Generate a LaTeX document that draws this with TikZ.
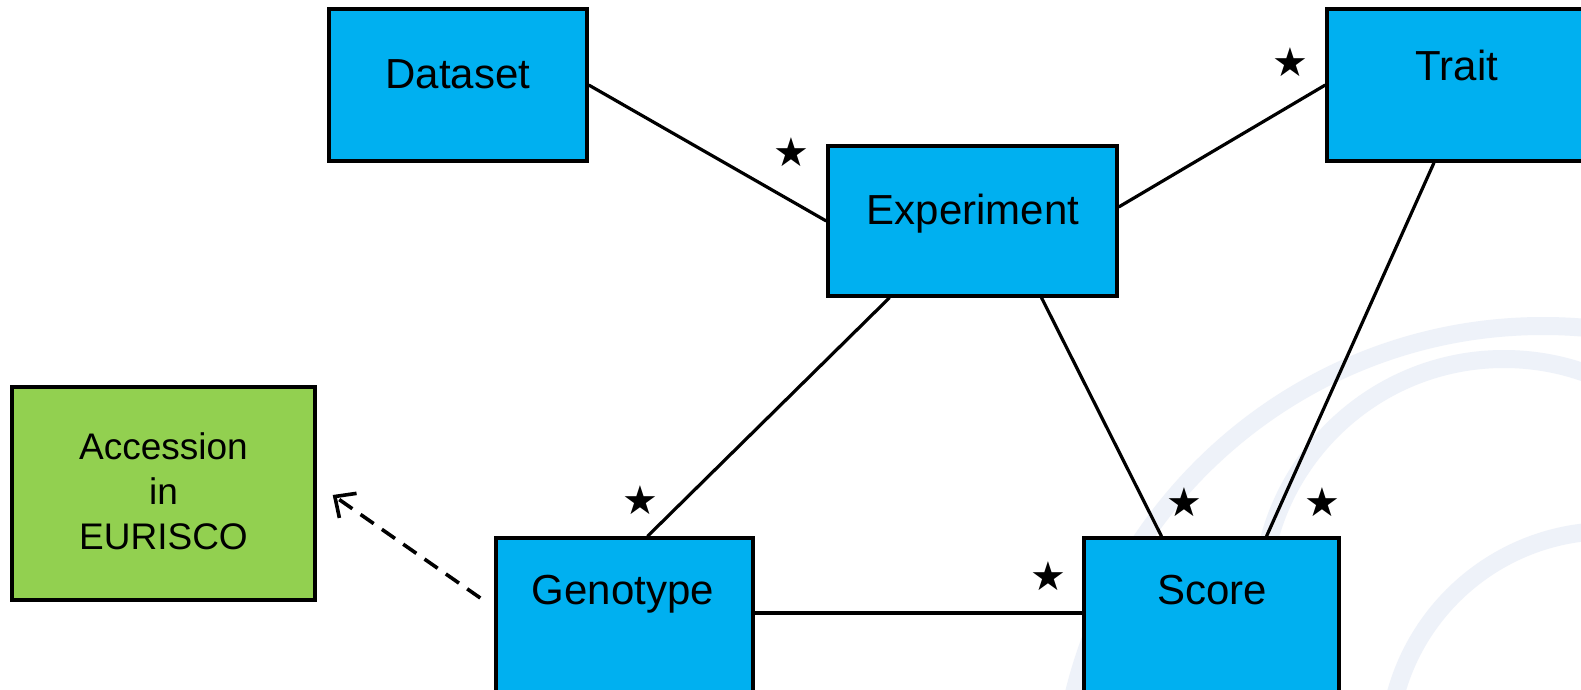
\documentclass[tikz,border=0pt]{standalone}
\usepackage{fontspec}
\setmainfont{Liberation Sans}
\newfontfamily\starfont{DejaVu Sans}
\usetikzlibrary{calc}
\usetikzlibrary{arrows.meta}

\definecolor{boxblue}{HTML}{00B0F0}
\definecolor{boxgreen}{HTML}{92D050}
\definecolor{arcgray}{HTML}{EEF2F9}

\begin{document}
\begin{tikzpicture}[x=0.5pt, y=-0.5pt, >=Stealth]

  % ---------- Styling ----------
  \tikzset{
    entity/.style={draw=black, fill=boxblue, line width=1.7pt, inner sep=0pt},
    source/.style={draw=black, fill=boxgreen, line width=1.7pt, inner sep=0pt},
    entitytext/.style={anchor=base, inner sep=0pt, font=\fontsize{21}{25}\selectfont},
    relation/.style={draw=black, line width=1.6pt},
    link/.style={draw=black, line width=1.8pt, dash pattern=on 8pt off 5pt,
      -{Straight Barb[length=8pt, width=15pt, line width=1.8pt]}},
    many/.style={font=\starfont\fontsize{20}{20}\selectfont, inner sep=0pt},
    bgarc/.style={draw=arcgray, line width=9pt}
  }

  % ---------- Canvas ----------
  \clip (0,0) rectangle (1581,690);
  \fill[white] (0,0) rectangle (1581,690);

  % ---------- Background arcs ----------
  \draw[bgarc] (1543,809) circle[radius=483];
  \draw[bgarc] (1504,602) circle[radius=243];
  \draw[bgarc] (1609,752) circle[radius=221];

  % ---------- Entities ----------
  \node[entity, minimum width=129pt, minimum height=76pt] (dataset) at (458,85) {};
  \node[entitytext] (dataset-label) at (458,89) {Dataset};

  \node[entity, minimum width=144.5pt, minimum height=75pt] (experiment) at (972.5,221) {};
  \node[entitytext] (experiment-label) at (973,225) {Experiment};

  \node[entity, minimum width=130pt, minimum height=76pt] (trait) at (1457,85) {};
  \node[entitytext] (trait-label) at (1457,81) {Trait};

  \node[entity, minimum width=128.5pt, minimum height=80pt] (genotype) at (624.5,618) {};
  \node[entitytext] (genotype-label) at (623,604) {Genotype};

  \node[entity, minimum width=127.5pt, minimum height=80pt] (score) at (1211.5,618) {};
  \node[entitytext] (score-label) at (1212,604) {Score};

  \node[source, minimum width=151.5pt, minimum height=106.5pt] (accession) at (163.5,493.5) {};
  \node[inner sep=0pt, align=center, font=\fontsize{18.5}{22.5}\selectfont]
    (accession-label) at (163.5,491) {Accession\\in\\EURISCO};

  % ---------- Relations ----------
  \draw[relation] (dataset.east) -- (experiment.west);
  \draw[relation] ($(experiment.east)+(0,-14)$) -- (trait.west);
  \draw[relation] ($(experiment.south)+(-83,0)$) -- ($(genotype.north)+(23,0)$);
  \draw[relation] ($(experiment.south)+(69,0)$) -- ($(score.north)+(-50,0)$);
  \draw[relation] ($(trait.south)+(-23,0)$) -- ($(score.north)+(55,0)$);
  \draw[relation] ($(genotype.east)+(0,-5)$) -- ($(score.west)+(0,-5)$);

  % link to external record
  \draw[link] ($(genotype.west)+(-14,-20)$) -- ($(accession.east)+(16,1.5)$);

  % ---------- Multiplicities ----------
  \node[many] (many-dataset) at (791,152) {★};
  \node[many] (many-trait) at (1290,62) {★};
  \node[many] (many-genotype) at (640,500) {★};
  \node[many] (many-score-g) at (1048,576) {★};
  \node[many] (many-score-e) at (1184,502) {★};
  \node[many] (many-score-t) at (1322,502) {★};

\end{tikzpicture}
\end{document}
